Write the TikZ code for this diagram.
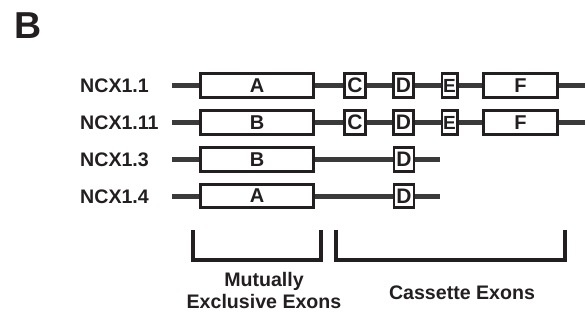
\documentclass[tikz,border=0pt]{standalone}
\usepackage{fontspec}
\setmainfont{Liberation Sans}
\definecolor{ink}{HTML}{231F20}
\definecolor{linec}{HTML}{3A3A3A}
\begin{document}
\begin{tikzpicture}[x=1pt,y=-1pt,
  exon/.style={draw=ink,fill=white,line width=2.8pt,inner sep=0pt,minimum height=23.5pt,
     font=\fontsize{20}{20}\selectfont\bfseries,text=ink},
  exA/.style={exon,minimum width=113.5pt},
  exC/.style={exon,minimum width=21.5pt,font=\fontsize{21}{21}\selectfont\bfseries},
  exD/.style={exon,minimum width=20pt,font=\fontsize{21}{21}\selectfont\bfseries},
  exE/.style={exon,minimum width=15.2pt,font=\fontsize{19}{19}\selectfont\bfseries},
  exF/.style={exon,minimum width=74.5pt},
  intron/.style={draw=linec,line width=5pt},
  lab/.style={font=\fontsize{19.6}{22}\selectfont\bfseries,text=ink,inner sep=0pt},
  brk/.style={draw=ink,line width=4pt}]
\useasboundingbox (0,0) rectangle (586,325);
\node[font=\fontsize{37.5}{38}\selectfont\bfseries,text=ink,inner sep=0pt] (title) at (28.5,25.5) {B};
% labels
\node[lab,anchor=west] (l1) at (80,86) {NCX1.1};
\node[lab,anchor=west] (l2) at (80,123) {NCX1.11};
\node[lab,anchor=west] (l3) at (80,160) {NCX1.3};
\node[lab,anchor=west] (l4) at (80,196.5) {NCX1.4};
% row coordinates
\coordinate (s1) at (172,85.5);
\coordinate (s2) at (172,122.5);
\coordinate (s3) at (172,159.5);
\coordinate (s4) at (172,196);
\coordinate (e1) at (585,85.5);
\coordinate (e2) at (585,122.5);
\coordinate (e3) at (440,159.5);
\coordinate (e4) at (440,196);
% row 1
\node[exA] (a1) at (257,85.5) {A};
\node[exC] (c1) at (355,85.5) {C};
\node[exD] (d1) at (403.5,85.5) {D};
\node[exE] (x1) at (449.5,85.5) {E};
\node[exF] (f1) at (520.5,85.5) {F};
% row 2
\node[exA] (a2) at (257,122.5) {B};
\node[exC] (c2) at (355,122.5) {C};
\node[exD] (d2) at (403.5,122.5) {D};
\node[exE] (x2) at (449.5,122.5) {E};
\node[exF] (f2) at (520.5,122.5) {F};
% row 3
\node[exA] (a3) at (257,159.5) {B};
\node[exD] (d3) at (404,159.5) {D};
% row 4
\node[exA] (a4) at (257,196) {A};
\node[exD] (d4) at (404,196) {D};
% introns
\draw[intron] (s1) -- (a1.west) (a1.east) -- (c1.west) (c1.east) -- (d1.west) (d1.east) -- (x1.west) (x1.east) -- (f1.west) (f1.east) -- (e1);
\draw[intron] (s2) -- (a2.west) (a2.east) -- (c2.west) (c2.east) -- (d2.west) (d2.east) -- (x2.west) (x2.east) -- (f2.west) (f2.east) -- (e2);
\draw[intron] (s3) -- (a3.west) (a3.east) -- (d3.west) (d3.east) -- (e3);
\draw[intron] (s4) -- (a4.west) (a4.east) -- (d4.west) (d4.east) -- (e4);
% brackets
\coordinate (b1a) at (193,230); \coordinate (b1b) at (321,230);
\coordinate (b2a) at (336,230); \coordinate (b2b) at (565,230);
\draw[brk] (b1a) -- (193,260) -- (321,260) -- (b1b);
\draw[brk] (b2a) -- (336,260) -- (565,260) -- (b2b);
\node[lab,align=center] (mut) at (264,290) {Mutually\\Exclusive Exons};
\node[lab] (cas) at (462,292.5) {Cassette Exons};
\end{tikzpicture}
\end{document}
